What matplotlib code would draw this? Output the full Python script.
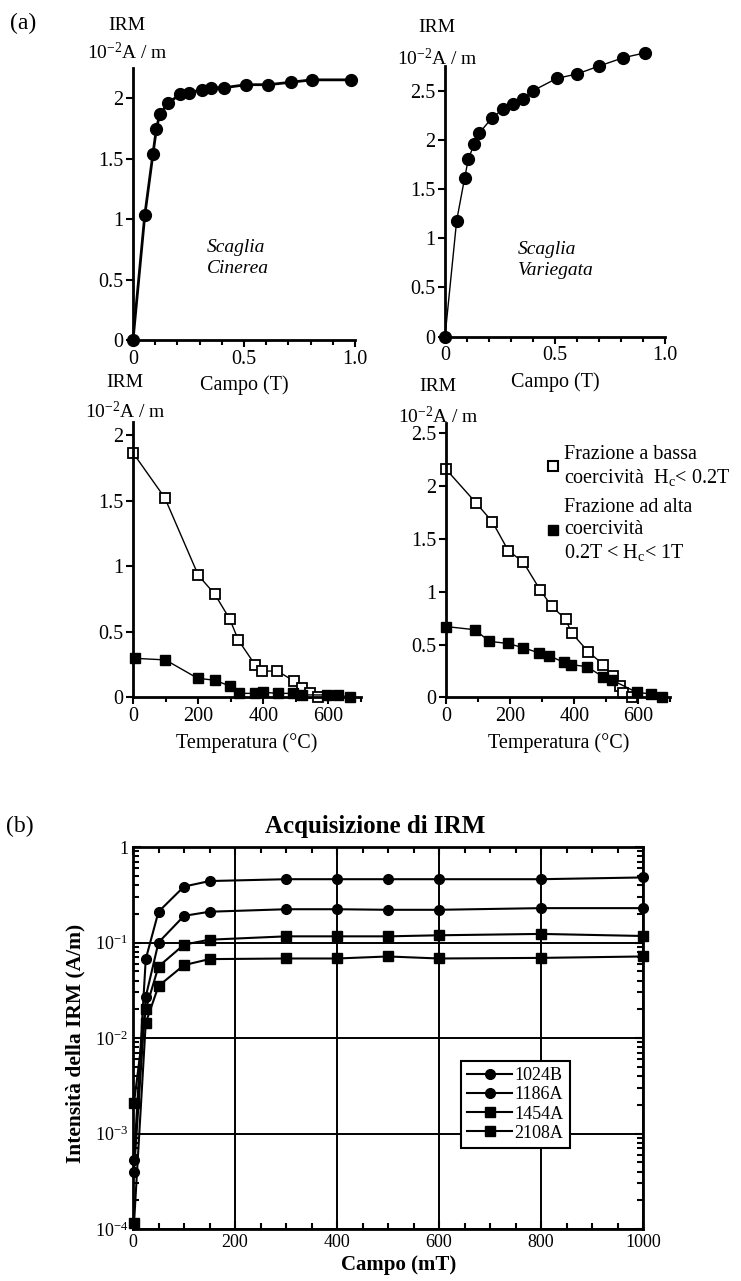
import matplotlib
matplotlib.use("Agg")
import matplotlib.pyplot as plt
from matplotlib.lines import Line2D
from matplotlib.ticker import MultipleLocator, FixedLocator, FixedFormatter, LogLocator, NullFormatter

plt.rcParams['font.family'] = 'Liberation Serif'
plt.rcParams['mathtext.fontset'] = 'custom'
plt.rcParams['mathtext.rm'] = 'Liberation Serif'
plt.rcParams['mathtext.it'] = 'Liberation Serif:italic'
plt.rcParams['mathtext.bf'] = 'Liberation Serif:bold'

# ================================
# Data
# ================================
# (a) IRM acquisition, Scaglia Cinerea
cin_field = [0, 0.053, 0.09, 0.105, 0.12, 0.158, 0.21, 0.25, 0.31, 0.353, 0.41, 0.51, 0.61, 0.71, 0.805, 0.98]
cin_irm = [0, 1.03, 1.54, 1.74, 1.865, 1.955, 2.03, 2.04, 2.07, 2.085, 2.085, 2.11, 2.11, 2.13, 2.15, 2.15]

# (a) IRM acquisition, Scaglia Variegata
var_field = [0, 0.053, 0.089, 0.106, 0.132, 0.156, 0.212, 0.262, 0.31, 0.353, 0.40, 0.508, 0.60, 0.70, 0.81, 0.91]
var_irm = [0, 1.18, 1.61, 1.805, 1.955, 2.07, 2.22, 2.31, 2.365, 2.42, 2.5, 2.625, 2.67, 2.75, 2.835, 2.885]

# (a) thermal demagnetisation, Cinerea
cin_t_low = [0, 97, 200, 251, 297, 323, 374, 395, 443, 494, 518, 544, 569]
cin_low = [1.86, 1.52, 0.93, 0.785, 0.595, 0.437, 0.25, 0.20, 0.20, 0.125, 0.07, 0.03, 0.005]
cin_t_high = [5, 99, 198, 251, 297, 326, 374, 400, 446, 492, 518, 595, 631, 667]
cin_high = [0.297, 0.285, 0.145, 0.13, 0.086, 0.03, 0.03, 0.038, 0.03, 0.03, 0.018, 0.018, 0.018, 0.0]

# (a) thermal demagnetisation, Variegata
var_t_low = [0, 94, 145, 194, 241, 293, 330, 373, 392, 444, 491, 520, 543, 553, 579]
var_low = [2.16, 1.84, 1.66, 1.39, 1.28, 1.02, 0.86, 0.74, 0.61, 0.43, 0.31, 0.20, 0.107, 0.044, 0.0]
var_t_high = [0, 90, 135, 192, 241, 290, 321, 368, 390, 439, 489, 517, 595, 640, 675]
var_high = [0.67, 0.64, 0.53, 0.51, 0.47, 0.42, 0.395, 0.33, 0.31, 0.29, 0.196, 0.164, 0.047, 0.032, 0.0]

# (b) IRM acquisition curves
field_mT = [2, 25, 50, 100, 150, 300, 400, 500, 600, 800, 1000]
irm_1024B = [5.3e-4, 0.067, 0.21, 0.385, 0.44, 0.46, 0.46, 0.46, 0.46, 0.46, 0.48]
irm_1186A = [4.0e-4, 0.027, 0.10, 0.19, 0.21, 0.223, 0.223, 0.22, 0.22, 0.229, 0.229]
irm_1454A = [2.1e-3, 0.020, 0.056, 0.095, 0.107, 0.116, 0.116, 0.116, 0.119, 0.123, 0.117]
irm_2108A = [1.15e-4, 0.0144, 0.035, 0.058, 0.067, 0.068, 0.068, 0.0714, 0.068, 0.069, 0.0714]
samples = ["1024B", "1186A", "1454A", "2108A"]

fig = plt.figure(figsize=(7.41, 12.81), dpi=100)
W, H = 741.0, 1281.0


def rect(x0, y_bottom, w, h):
    # pixel box -> figure fraction
    return [x0 / W, 1 - y_bottom / H, w / W, h / H]


def setup_a(ax, xmax, ymax, xmajor, xminor, ylabels, xlabels, xlabel, irm_off, unit_off):
    ax.set_xlim(0, xmax)
    ax.set_ylim(0, ymax)
    for s in ["top", "right"]:
        ax.spines[s].set_visible(False)
    for s in ["left", "bottom"]:
        ax.spines[s].set_linewidth(2)
    ax.yaxis.set_major_locator(FixedLocator([0.5 * i for i in range(len(ylabels))]))
    ax.yaxis.set_major_formatter(FixedFormatter(ylabels))
    ax.xaxis.set_major_locator(FixedLocator(xmajor))
    ax.xaxis.set_major_formatter(FixedFormatter(xlabels))
    ax.xaxis.set_minor_locator(MultipleLocator(xminor))
    ax.tick_params(which="major", direction="out", length=5, width=1.5, labelsize=14.5, pad=2)
    ax.tick_params(which="minor", direction="out", length=3.5, width=1.5)
    ax.set_xlabel(xlabel, fontsize=14.5, labelpad=5)
    ax.annotate("IRM", xy=(0, 1), xycoords="axes fraction", xytext=irm_off,
                textcoords="offset pixels", ha="center", va="center", fontsize=14)
    ax.annotate(r"10$^{\mathrm{-2}}$A / m", xy=(0, 1), xycoords="axes fraction", xytext=unit_off,
                textcoords="offset pixels", ha="center", va="center", fontsize=14)


field_labels = ["0", "0.5", "1.0"]

# ---- Scaglia Cinerea, acquisition
ax1 = fig.add_axes(rect(133, 340, 222, 2.25 * 121))
ax1.plot(cin_field, cin_irm, "-o", color="black", lw=2, ms=8.5, clip_on=False)
setup_a(ax1, 1.0, 2.25, [0, 0.5, 1.0], 0.1, ["0", "0.5", "1", "1.5", "2"], field_labels,
        "Campo (T)", (-6, 42), (-6, 15))
ax1.text(0.333, 0.68, "Scaglia\nCinerea", fontsize=14, style="italic", ha="left", va="center",
         linespacing=1.3)

# ---- Scaglia Variegata, acquisition
ax2 = fig.add_axes(rect(445, 336.7, 220, 2.75 * 98.4))
ax2.plot(var_field, var_irm, "-o", color="black", lw=1, ms=8.5, clip_on=False)
setup_a(ax2, 1.0, 2.75, [0, 0.5, 1.0], 0.1, ["0", "0.5", "1", "1.5", "2", "2.5"], field_labels,
        "Campo (T)", (-8, 39), (-8, 8))
ax2.text(0.332, 0.78, "Scaglia\nVariegata", fontsize=14, style="italic", ha="left", va="center",
         linespacing=1.3)

temp_labels = ["0", "200", "400", "600"]

# ---- Cinerea, thermal demagnetisation
ax3 = fig.add_axes(rect(133.3, 697.3, 0.325 * 700, 2.1 * 131.2))
ax3.plot(cin_t_low, cin_low, "-s", color="black", mfc="white", lw=1, ms=6.5, mew=1.3, clip_on=False)
ax3.plot(cin_t_high, cin_high, "-s", color="black", lw=1, ms=6.5, clip_on=False)
setup_a(ax3, 700, 2.1, [0, 200, 400, 600], 100, ["0", "0.5", "1", "1.5", "2"], temp_labels,
        "Temperatura (°C)", (-8, 39), (-8, 10))

# ---- Variegata, thermal demagnetisation
ax4 = fig.add_axes(rect(446, 697.3, 0.3206 * 700, 2.6 * 105.6))
ax4.plot(var_t_low, var_low, "-s", color="black", mfc="white", lw=1, ms=6.5, mew=1.3, clip_on=False)
ax4.plot(var_t_high, var_high, "-s", color="black", lw=1, ms=6.5, clip_on=False)
setup_a(ax4, 700, 2.6, [0, 200, 400, 600], 100, ["0", "0.5", "1", "1.5", "2", "2.5"], temp_labels,
        "Temperatura (°C)", (-8, 36), (-8, 6))
handles = [Line2D([], [], marker="s", ls="none", color="black", mfc="white", ms=6.5, mew=1.5),
           Line2D([], [], marker="s", ls="none", color="black", ms=6.5)]
labels = ["Frazione a bassa\ncoercività  H$_\\mathrm{c}$< 0.2T",
          "Frazione ad alta\ncoercività\n0.2T < H$_\\mathrm{c}$< 1T"]
ax4.legend(handles, labels, loc="upper left", bbox_to_anchor=(0.44, 0.92), frameon=False,
           fontsize=14.5, handlelength=0.8, handletextpad=0.15, labelspacing=0.5, borderpad=0,
           borderaxespad=0)

fig.text(23 / W, 1 - 23 / H, "(a)", fontsize=17, ha="center", va="center")

# ================================
# (b) IRM acquisition, log scale
# ================================
axb = fig.add_axes(rect(133, 1229, 510, 382))
series = [(irm_1024B, "o", 7), (irm_1186A, "o", 7), (irm_1454A, "s", 7.5), (irm_2108A, "s", 7.5)]
for (vals, mk, size), name in zip(series, samples):
    axb.plot(field_mT, vals, "-" + mk, color="black", lw=1.5, ms=size, label=name, clip_on=False,
             zorder=3)
axb.set_yscale("log")
axb.set_xlim(0, 1000)
axb.set_ylim(1e-4, 1)
axb.xaxis.set_major_locator(MultipleLocator(200))
axb.xaxis.set_minor_locator(MultipleLocator(50))
axb.yaxis.set_major_locator(FixedLocator([1e-4, 1e-3, 1e-2, 1e-1, 1]))
axb.yaxis.set_major_formatter(FixedFormatter(["$10^{-4}$", "$10^{-3}$", "$10^{-2}$", "$10^{-1}$", "1"]))
axb.yaxis.set_minor_locator(LogLocator(base=10, subs=range(2, 10)))
axb.yaxis.set_minor_formatter(NullFormatter())
axb.tick_params(which="both", direction="in", top=True, right=True, width=1.5, labelsize=13)
axb.tick_params(which="major", length=6)
axb.tick_params(which="minor", length=4)
axb.grid(True, which="major", color="black", lw=1.4)
axb.set_axisbelow(True)
for s in axb.spines.values():
    s.set_linewidth(2)
axb.legend(loc="upper left", bbox_to_anchor=(0.643, 0.44), fontsize=13, frameon=True,
           fancybox=False, edgecolor="black", framealpha=1, handlelength=2.5, handletextpad=0.1,
           labelspacing=0.12, borderpad=0.35, borderaxespad=0).get_frame().set_linewidth(1.5)

fig.text(375 / W, 1 - 826 / H, "Acquisizione di IRM", fontsize=18, fontweight="bold",
         ha="center", va="center")
fig.text(75 / W, 1 - 1043 / H, "Intensità della IRM (A/m)", fontsize=15.5, fontweight="bold",
         rotation=90, ha="center", va="center")
fig.text(399 / W, 1 - 1265 / H, "Campo (mT)", fontsize=15, fontweight="bold", ha="center", va="center")
fig.text(20 / W, 1 - 826 / H, "(b)", fontsize=17, ha="center", va="center")

fig.savefig("out.png", dpi=100)
